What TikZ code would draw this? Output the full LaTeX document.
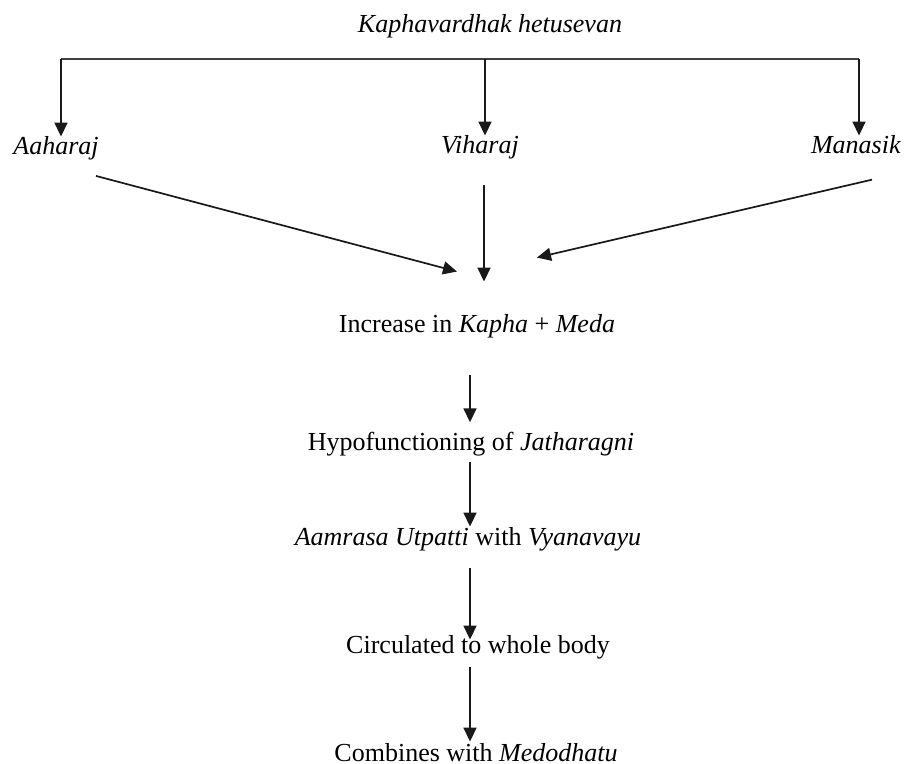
\documentclass[tikz,border=0pt]{standalone}
\usepackage{fontspec}
\setmainfont{Liberation Serif}
\usetikzlibrary{arrows.meta, positioning}

\begin{document}
\begin{tikzpicture}[
    x=0.5pt, y=-0.5pt,
    lbl/.style={inner sep=0pt, anchor=base, font=\fontsize{13}{15}\selectfont},
    arr/.style={-{Triangle[length=7pt, width=6.5pt]}, line width=0.85pt, black!90},
    bar/.style={line width=1pt, black!75},
]
\useasboundingbox (0,0) rectangle (904,764);

% Causes
\node[lbl] (hetu) at (490,33) {\textit{Kaphavardhak hetusevan}};
\node[lbl] (aah) at (56,155) {\textit{Aaharaj}};
\node[lbl] (vih) at (480,154) {\textit{Viharaj}};
\node[lbl] (man) at (856,154) {\textit{Manasik}};

% Pathway
\node[lbl] (inc) at (477,333) {Increase in \textit{Kapha} + \textit{Meda}};
\node[lbl] (hyp) at (471,450) {Hypofunctioning of \textit{Jatharagni}};
\node[lbl] (aam) at (468,545) {\textit{Aamrasa Utpatti} with \textit{Vyanavayu}};
\node[lbl] (cir) at (478,653) {Circulated to whole body};
\node[lbl] (com) at (476,761) {Combines with \textit{Medodhatu}};

% Branching bar
\coordinate (barL) at (61,59);
\coordinate (barM) at (485,59);
\coordinate (barR) at (859,59);
\draw[bar] (barL) -- (barR);
\draw[arr] (barL) -- (barL |- aah.north);
\draw[arr] (barM) -- (barM |- vih.north);
\draw[arr] (barR) -- (barR |- man.north);

% Converging arrows
\draw[arr] ([xshift=-1.5pt, yshift=-7.5pt]aah.south east) -- ([xshift=-10pt, yshift=21.5pt]inc.north);
\draw[arr] ([xshift=2pt, yshift=-12.5pt]vih.south) -- ([xshift=3.5pt, yshift=16.5pt]inc.north);
\draw[arr] ([xshift=8pt, yshift=-12.5pt]man.south) -- ([xshift=30pt, yshift=28.5pt]inc.north);

% Chain
\coordinate (spine) at (470,0);
\foreach \a/\b/\s/\t in {inc/hyp/18pt/4.5pt, hyp/aam/3pt/0pt, aam/cir/8.5pt/-2.5pt, cir/com/4pt/0.5pt} {
    \draw[arr, shorten <=\s, shorten >=\t] (\a.south -| spine) -- (\b.north -| spine);
}

\end{tikzpicture}
\end{document}
